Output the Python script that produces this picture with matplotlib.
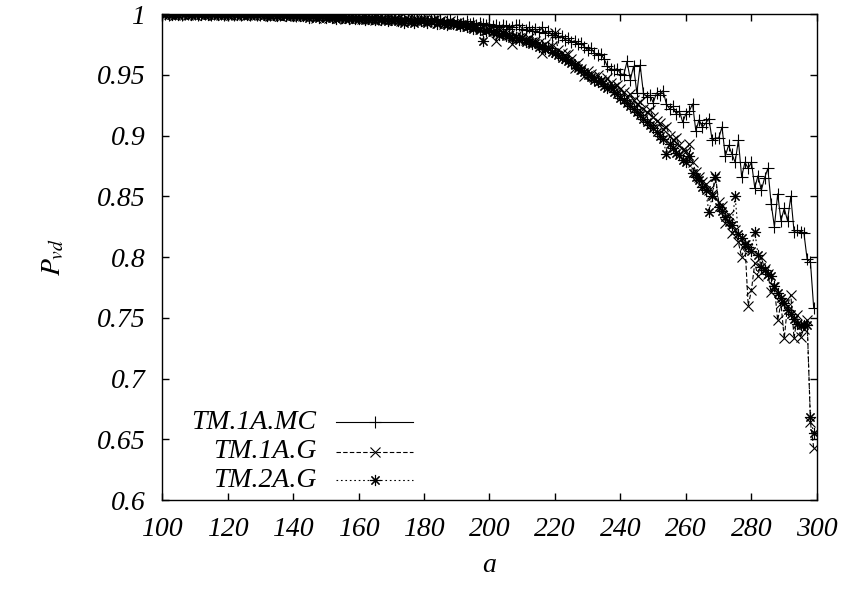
import matplotlib
matplotlib.use("Agg")
import matplotlib.pyplot as plt
import numpy as np

plt.rcParams["font.family"] = "Liberation Serif"
plt.rcParams["font.style"] = "italic"
plt.rcParams["font.size"] = 20
plt.rcParams["mathtext.fontset"] = "stix"

a = np.arange(100, 300)

p_mc = [
    1.000, 1.000, 0.999, 1.000, 1.000, 1.000, 0.999, 1.000, 1.000, 1.000,
    1.000, 0.999, 1.000, 1.000, 1.000, 0.999, 1.000, 1.000, 1.000, 0.999,
    1.000, 1.000, 0.999, 1.000, 0.999, 1.000, 1.000, 0.999, 1.000, 0.999,
    0.999, 1.000, 0.999, 0.999, 1.000, 0.999, 0.999, 1.000, 0.999, 0.999,
    0.999, 0.998, 0.999, 0.999, 0.999, 0.998, 0.999, 0.999, 0.998, 0.999,
    0.998, 0.999, 0.998, 0.998, 0.999, 0.998, 0.998, 0.997, 0.998, 0.998,
    0.997, 0.998, 0.997, 0.998, 0.997, 0.997, 0.996, 0.997, 0.997, 0.996,
    0.997, 0.996, 0.996, 0.997, 0.995, 0.996, 0.996, 0.995, 0.996, 0.995,
    0.995, 0.994, 0.995, 0.996, 0.994, 0.995, 0.993, 0.994, 0.995, 0.993,
    0.994, 0.992, 0.993, 0.994, 0.992, 0.993, 0.991, 0.993, 0.992, 0.991,
    0.992, 0.990, 0.991, 0.989, 0.991, 0.990, 0.988, 0.989, 0.991, 0.991,
    0.988, 0.987, 0.989, 0.986, 0.988, 0.985, 0.989, 0.984, 0.986, 0.983,
    0.984, 0.981, 0.982, 0.979, 0.980, 0.977, 0.978, 0.975, 0.976, 0.973,
    0.970, 0.972, 0.968, 0.966, 0.967, 0.963, 0.957, 0.955, 0.954, 0.955,
    0.951, 0.950, 0.961, 0.946, 0.957, 0.935, 0.958, 0.935, 0.932, 0.933,
    0.927, 0.935, 0.933, 0.937, 0.926, 0.922, 0.924, 0.918, 0.920, 0.911,
    0.918, 0.920, 0.926, 0.904, 0.913, 0.907, 0.910, 0.914, 0.896, 0.898,
    0.898, 0.907, 0.883, 0.892, 0.885, 0.878, 0.896, 0.866, 0.878, 0.873,
    0.878, 0.857, 0.867, 0.855, 0.865, 0.873, 0.844, 0.825, 0.852, 0.830,
    0.840, 0.830, 0.850, 0.821, 0.822, 0.821, 0.820, 0.798, 0.796, 0.758,
]

p_1a_g = [
    1.000, 0.999, 1.000, 1.000, 0.999, 1.000, 1.000, 1.000, 0.999, 1.000,
    0.999, 1.000, 1.000, 0.999, 1.000, 1.000, 0.999, 1.000, 0.999, 1.000,
    1.000, 0.999, 1.000, 0.999, 1.000, 0.999, 0.999, 1.000, 0.999, 1.000,
    0.999, 0.999, 1.000, 0.998, 0.999, 0.999, 0.998, 0.999, 0.999, 0.998,
    0.999, 0.998, 0.999, 0.998, 0.998, 0.999, 0.998, 0.997, 0.998, 0.998,
    0.998, 0.997, 0.998, 0.998, 0.997, 0.998, 0.996, 0.997, 0.998, 0.997,
    0.997, 0.996, 0.997, 0.996, 0.997, 0.995, 0.996, 0.996, 0.995, 0.997,
    0.996, 0.995, 0.996, 0.994, 0.995, 0.996, 0.994, 0.995, 0.994, 0.995,
    0.995, 0.994, 0.994, 0.995, 0.993, 0.994, 0.992, 0.993, 0.994, 0.992,
    0.993, 0.991, 0.992, 0.990, 0.991, 0.989, 0.990, 0.988, 0.989, 0.987,
    0.988, 0.986, 0.978, 0.987, 0.985, 0.984, 0.983, 0.975, 0.982, 0.980,
    0.981, 0.979, 0.980, 0.977, 0.978, 0.976, 0.968, 0.975, 0.972, 0.974,
    0.984, 0.970, 0.968, 0.966, 0.967, 0.963, 0.956, 0.960, 0.955, 0.949,
    0.953, 0.951, 0.948, 0.950, 0.946, 0.944, 0.947, 0.943, 0.940, 0.942,
    0.938, 0.936, 0.932, 0.934, 0.929, 0.926, 0.928, 0.922, 0.919, 0.921,
    0.915, 0.912, 0.910, 0.905, 0.907, 0.900, 0.896, 0.898, 0.892, 0.888,
    0.887, 0.893, 0.878, 0.870, 0.866, 0.862, 0.860, 0.855, 0.852, 0.867,
    0.845, 0.842, 0.828, 0.835, 0.820, 0.822, 0.812, 0.800, 0.810, 0.760,
    0.773, 0.795, 0.784, 0.800, 0.790, 0.786, 0.771, 0.775, 0.748, 0.762,
    0.733, 0.760, 0.769, 0.733, 0.752, 0.734, 0.741, 0.748, 0.664, 0.643,
]

p_2a_g = [
    1.000, 1.000, 1.000, 0.999, 1.000, 0.999, 1.000, 1.000, 1.000, 0.999,
    1.000, 1.000, 0.999, 1.000, 0.999, 1.000, 1.000, 0.999, 1.000, 0.999,
    0.999, 1.000, 1.000, 0.999, 0.999, 1.000, 0.999, 0.999, 1.000, 0.999,
    1.000, 0.999, 0.998, 0.999, 0.999, 0.998, 0.999, 0.999, 0.998, 0.999,
    0.998, 0.999, 0.998, 0.998, 0.999, 0.997, 0.998, 0.998, 0.997, 0.998,
    0.997, 0.998, 0.997, 0.996, 0.998, 0.997, 0.997, 0.996, 0.997, 0.996,
    0.996, 0.997, 0.995, 0.996, 0.996, 0.995, 0.997, 0.995, 0.996, 0.994,
    0.995, 0.996, 0.994, 0.995, 0.993, 0.995, 0.994, 0.993, 0.995, 0.994,
    0.995, 0.993, 0.994, 0.995, 0.992, 0.994, 0.993, 0.991, 0.993, 0.992,
    0.992, 0.990, 0.991, 0.989, 0.990, 0.988, 0.989, 0.987, 0.978, 0.986,
    0.987, 0.985, 0.986, 0.983, 0.984, 0.982, 0.983, 0.980, 0.981, 0.979,
    0.980, 0.977, 0.978, 0.975, 0.976, 0.973, 0.974, 0.971, 0.972, 0.969,
    0.968, 0.966, 0.964, 0.963, 0.961, 0.960, 0.958, 0.956, 0.954, 0.952,
    0.950, 0.948, 0.946, 0.944, 0.945, 0.941, 0.939, 0.940, 0.936, 0.934,
    0.931, 0.929, 0.927, 0.924, 0.922, 0.919, 0.917, 0.914, 0.911, 0.909,
    0.906, 0.903, 0.900, 0.897, 0.885, 0.893, 0.890, 0.886, 0.884, 0.880,
    0.878, 0.883, 0.869, 0.866, 0.863, 0.858, 0.855, 0.837, 0.850, 0.866,
    0.841, 0.838, 0.833, 0.829, 0.826, 0.850, 0.819, 0.816, 0.811, 0.808,
    0.805, 0.821, 0.802, 0.792, 0.789, 0.786, 0.784, 0.776, 0.770, 0.766,
    0.762, 0.756, 0.753, 0.749, 0.745, 0.744, 0.744, 0.744, 0.668, 0.655,
]

labels = ["TM.1A.MC", "TM.1A.G", "TM.2A.G"]
series = [p_mc, p_1a_g, p_2a_g]
styles = [
    dict(linestyle="-", marker="+", markersize=8),
    dict(linestyle=(0, (4, 2)), marker="x", markersize=7),
    dict(linestyle=(0, (1.5, 2.5)), marker=(8, 2, 0), markersize=8),
]

fig = plt.figure(figsize=(8.46, 5.9), dpi=100)
ax = fig.add_axes([0.1915, 0.1525, 0.7742, 0.8237])

for vals, st in zip(series, styles):
    ax.plot(a, vals, color="black", lw=0.8, mew=0.8, **st)

ax.set_xlim(100, 300)
ax.set_ylim(0.6, 1.0)
ax.set_xticks(np.arange(100, 301, 20))
ax.set_yticks(np.arange(0.6, 1.001, 0.05))
ax.set_yticklabels(["0.6", "0.65", "0.7", "0.75", "0.8", "0.85", "0.9", "0.95", "1"])
ax.tick_params(direction="in", length=5, width=1, top=True, right=True, pad=12,
               labelsize=20)
for sp in ax.spines.values():
    sp.set_linewidth(1.0)

ax.set_xlabel("a", fontsize=20, labelpad=8)
ax.set_ylabel("$P_{vd}$", fontsize=20, labelpad=22)

# gnuplot-style key: right-aligned text with sample line to its right
key_y = [0.160, 0.099, 0.041]
for lab, st, ky in zip(labels, styles, key_y):
    ax.text(0.236, ky, lab, transform=ax.transAxes, ha="right", va="center",
            fontsize=20)
    ax.plot([0.266, 0.383], [ky, ky], transform=ax.transAxes, color="black",
            lw=0.8, linestyle=st["linestyle"], clip_on=False)
    ax.plot([0.3245], [ky], transform=ax.transAxes, color="black",
            marker=st["marker"], markersize=st["markersize"], mew=0.8,
            clip_on=False)

fig.savefig("out.png", dpi=100)
